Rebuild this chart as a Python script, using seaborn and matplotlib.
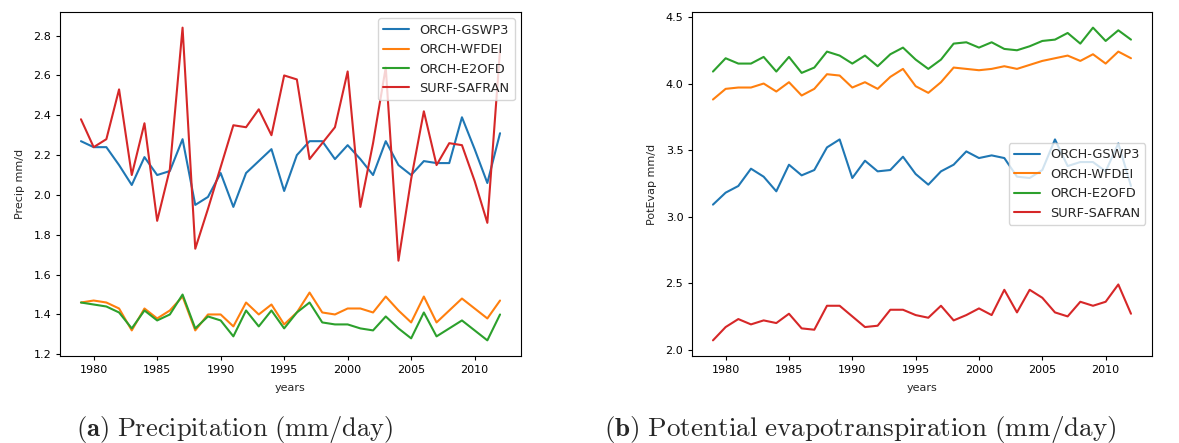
import numpy as np
import pandas as pd
import matplotlib
matplotlib.use("agg")
import matplotlib.pyplot as plt
import seaborn as sns

years = list(range(1979, 2013))
models = ["ORCH-GSWP3", "ORCH-WFDEI", "ORCH-E2OFD", "SURF-SAFRAN"]

# precipitation, mm/d
precip_gswp3 = [2.27, 2.24, 2.24, 2.15, 2.05, 2.19, 2.10, 2.12, 2.28, 1.95,
                1.99, 2.11, 1.94, 2.11, 2.17, 2.23, 2.02, 2.20, 2.27, 2.27,
                2.18, 2.25, 2.18, 2.10, 2.27, 2.15, 2.10, 2.17, 2.16, 2.16,
                2.39, 2.23, 2.06, 2.31]
precip_wfdei = [1.46, 1.47, 1.46, 1.43, 1.32, 1.43, 1.38, 1.42, 1.49, 1.32,
                1.40, 1.40, 1.34, 1.46, 1.40, 1.45, 1.35, 1.41, 1.51, 1.41,
                1.40, 1.43, 1.43, 1.41, 1.49, 1.42, 1.36, 1.49, 1.36, 1.42,
                1.48, 1.43, 1.38, 1.47]
precip_e2ofd = [1.46, 1.45, 1.44, 1.41, 1.33, 1.42, 1.37, 1.40, 1.50, 1.33,
                1.39, 1.37, 1.29, 1.42, 1.34, 1.42, 1.33, 1.41, 1.46, 1.36,
                1.35, 1.35, 1.33, 1.32, 1.39, 1.33, 1.28, 1.41, 1.29, 1.33,
                1.37, 1.32, 1.27, 1.40]
precip_safran = [2.38, 2.24, 2.28, 2.53, 2.10, 2.36, 1.87, 2.13, 2.84, 1.73,
                 1.93, 2.14, 2.35, 2.34, 2.43, 2.30, 2.60, 2.58, 2.18, 2.26,
                 2.34, 2.62, 1.94, 2.26, 2.64, 1.67, 2.08, 2.42, 2.15, 2.26,
                 2.25, 2.07, 1.86, 2.73]

# potential evapotranspiration, mm/d
pet_gswp3 = [3.09, 3.18, 3.23, 3.36, 3.30, 3.19, 3.39, 3.31, 3.35, 3.52,
             3.58, 3.29, 3.42, 3.34, 3.35, 3.45, 3.32, 3.24, 3.34, 3.39,
             3.49, 3.44, 3.46, 3.44, 3.30, 3.29, 3.35, 3.58, 3.38, 3.41,
             3.41, 3.34, 3.55, 3.23]
pet_wfdei = [3.88, 3.96, 3.97, 3.97, 4.00, 3.94, 4.01, 3.91, 3.96, 4.07,
             4.06, 3.97, 4.01, 3.96, 4.05, 4.11, 3.98, 3.93, 4.01, 4.12,
             4.11, 4.10, 4.11, 4.13, 4.11, 4.14, 4.17, 4.19, 4.21, 4.17,
             4.22, 4.15, 4.24, 4.19]
pet_e2ofd = [4.09, 4.19, 4.15, 4.15, 4.20, 4.09, 4.20, 4.08, 4.12, 4.24,
             4.21, 4.15, 4.21, 4.13, 4.22, 4.27, 4.18, 4.11, 4.18, 4.30,
             4.31, 4.27, 4.31, 4.26, 4.25, 4.28, 4.32, 4.33, 4.38, 4.30,
             4.42, 4.32, 4.40, 4.33]
pet_safran = [2.07, 2.17, 2.23, 2.19, 2.22, 2.20, 2.27, 2.16, 2.15, 2.33,
              2.33, 2.25, 2.17, 2.18, 2.30, 2.30, 2.26, 2.24, 2.33, 2.22,
              2.26, 2.31, 2.26, 2.45, 2.28, 2.45, 2.39, 2.28, 2.25, 2.36,
              2.33, 2.36, 2.49, 2.27]


def to_long(series):
	frames = []
	for name, vals in zip(models, series):
		frames.append(pd.DataFrame({"years": years, "value": vals, "model": name}))
	return pd.concat(frames, ignore_index=True)


precip = to_long([precip_gswp3, precip_wfdei, precip_e2ofd, precip_safran])
pet = to_long([pet_gswp3, pet_wfdei, pet_e2ofd, pet_safran])

sns.set_style("ticks")
plt.rcParams["font.family"] = ["DejaVu Sans"]
plt.rcParams["axes.edgecolor"] = "black"
plt.rcParams["xtick.color"] = "black"
plt.rcParams["ytick.color"] = "black"
fs = 8
palette = sns.color_palette("tab10", 4)

fig = plt.figure(figsize=(11.79, 4.43), dpi=100)
ax1 = fig.add_axes([0.0509, 0.1964, 0.391, 0.7765])
ax2 = fig.add_axes([0.587, 0.1964, 0.390, 0.7765])

for ax, df, ylab, loc in [(ax1, precip, "Precip mm/d", "upper right"),
                          (ax2, pet, "PotEvap mm/d", "center right")]:
	sns.lineplot(data=df, x="years", y="value", hue="model", palette=palette,
	             linewidth=1.5, ax=ax)
	ax.set_xlabel("years", fontsize=fs, labelpad=6)
	ax.set_ylabel(ylab, fontsize=fs, labelpad=6)
	ax.tick_params(labelsize=fs, length=2.8, width=0.8)
	for s in ax.spines.values():
		s.set_linewidth(0.8)
	h, l = ax.get_legend_handles_labels()
	ax.legend(h, l, loc=loc, fontsize=9.3, frameon=True, handlelength=2.0)

ax2.set_yticks([2.0, 2.5, 3.0, 3.5, 4.0, 4.5])

# captions under each panel, bold label + roman text (Computer Modern)
fig.text(0.199, 0.016, r"$\mathbf{(a)}\ \mathrm{Precipitation\ (mm/day)}$",
         fontsize=19, ha="center", math_fontfamily="cm")
fig.text(0.730, 0.016, r"$\mathbf{(b)}\ \mathrm{Potential\ evapotranspiration\ (mm/day)}$",
         fontsize=19.5, ha="center", math_fontfamily="cm")

plt.savefig("out.png", dpi=100)
